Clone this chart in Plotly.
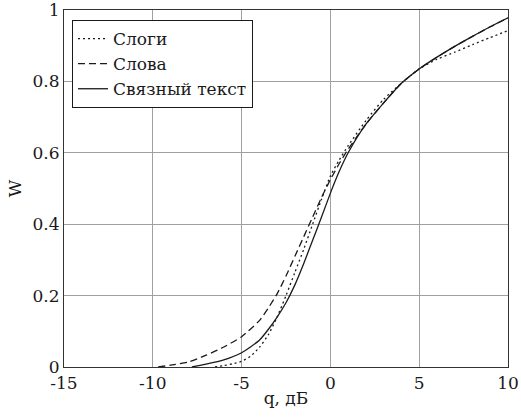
import plotly.graph_objects as go

# Слоги (dotted)
q_syl = [-6.5, -6, -5.5, -5, -4.5, -4, -3.5, -3, -2.5, -2, -1.5, -1, -0.5, 0, 0.5, 1, 2, 3, 4, 5, 6, 7, 8, 9, 10]
w_syl = [0.0, 0.004, 0.009, 0.016, 0.03, 0.055, 0.09, 0.14, 0.2, 0.265, 0.33, 0.40, 0.47, 0.535, 0.58, 0.62, 0.69, 0.75, 0.795, 0.835, 0.862, 0.882, 0.903, 0.923, 0.942]

# Слова (dashed)
q_word = [-9.7, -9, -8, -7, -6, -5, -4, -3.5, -3, -2.5, -2, -1.5, -1, -0.5, 0, 0.5, 1, 2, 3, 4, 5, 6, 7, 8, 9, 10]
w_word = [0.0, 0.005, 0.014, 0.033, 0.056, 0.085, 0.13, 0.165, 0.205, 0.255, 0.31, 0.365, 0.42, 0.475, 0.525, 0.57, 0.61, 0.68, 0.74, 0.795, 0.835, 0.868, 0.898, 0.926, 0.953, 0.978]

# Связный текст (solid)
q_text = [-7.8, -7.5, -7, -6, -5, -4, -3.5, -3, -2.5, -2, -1.5, -1, -0.5, 0, 0.5, 1, 2, 3, 4, 5, 6, 7, 8, 9, 10]
w_text = [0.0, 0.003, 0.008, 0.02, 0.04, 0.075, 0.105, 0.14, 0.18, 0.23, 0.29, 0.355, 0.42, 0.487, 0.548, 0.60, 0.68, 0.74, 0.795, 0.835, 0.868, 0.898, 0.926, 0.953, 0.978]

x_ticks = [-15, -10, -5, 0, 5, 10]
x_ticklabels = ["-15", "-10", "-5", "0", "5", "10"]
y_ticks = [0, 0.2, 0.4, 0.6, 0.8, 1]
y_ticklabels = ["0", "0.2", "0.4", "0.6", "0.8", "1"]

FONT = "DejaVu Serif"
INK = "#1a1a1a"

fig = go.Figure()
fig.add_trace(go.Scatter(x=q_syl, y=w_syl, mode="lines", name="Слоги",
                         line=dict(color=INK, width=1.3, dash="2px,3px", shape="spline", smoothing=0.6)))
fig.add_trace(go.Scatter(x=q_word, y=w_word, mode="lines", name="Слова",
                         line=dict(color=INK, width=1.3, dash="7px,4px", shape="spline", smoothing=0.6)))
fig.add_trace(go.Scatter(x=q_text, y=w_text, mode="lines", name="Связный текст",
                         line=dict(color=INK, width=1.3, shape="spline", smoothing=0.6)))

fig.update_layout(
    width=521, height=418,
    margin=dict(l=64, r=13, t=10, b=51),
    paper_bgcolor="white", plot_bgcolor="white",
    font=dict(family=FONT, size=17, color=INK),
    showlegend=True,
    legend=dict(x=0.018, y=0.972, xanchor="left", yanchor="top",
                bgcolor="white", bordercolor=INK, borderwidth=1,
                font=dict(family=FONT, size=17, color=INK),
                itemwidth=30, tracegroupgap=0,
                traceorder="normal"),
)
fig.update_xaxes(range=[-15, 10], tickvals=x_ticks, ticktext=x_ticklabels,
                 showgrid=True, gridcolor="#a0a0a0", gridwidth=1,
                 showline=True, linecolor="#333", linewidth=1.2, mirror=True,
                 zeroline=False, ticks="", ticklen=0, automargin=False,
                 ticklabeloverflow="allow",
                 tickfont=dict(family=FONT, size=17),
                 title=dict(text="q, дБ", standoff=0, font=dict(family=FONT, size=17)))
fig.update_yaxes(range=[0, 1], tickvals=y_ticks, ticktext=y_ticklabels,
                 showgrid=True, gridcolor="#a0a0a0", gridwidth=1,
                 showline=True, linecolor="#333", linewidth=1.2, mirror=True,
                 zeroline=False, ticks="", ticklen=0, automargin=False,
                 ticklabeloverflow="allow",
                 tickfont=dict(family=FONT, size=17),
                 title=dict(text="W", standoff=6, font=dict(family=FONT, size=17)))

fig.write_html("out.html")
